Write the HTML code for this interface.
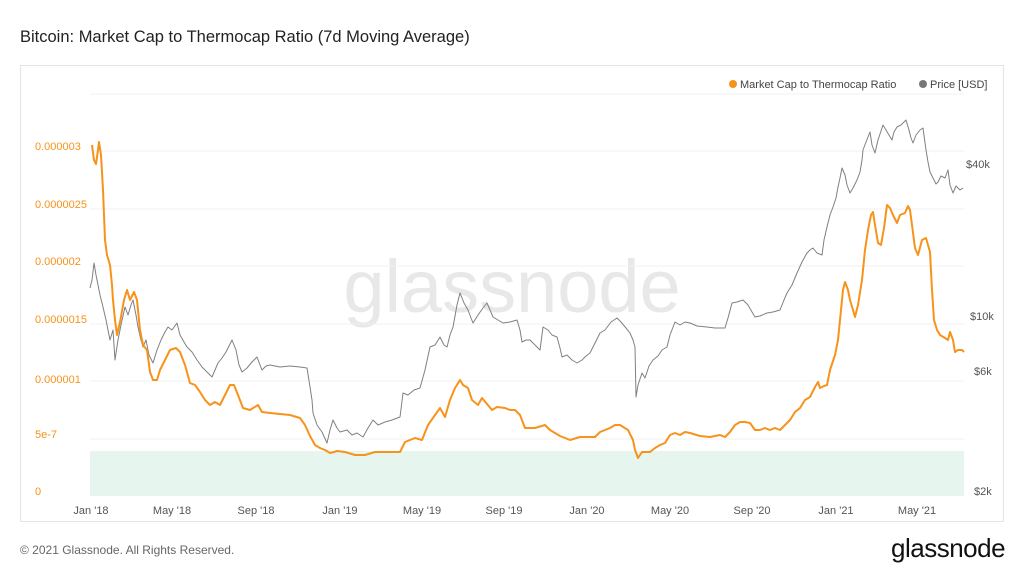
<!DOCTYPE html>
<html><head><meta charset="utf-8"><style>
body{margin:0;width:1024px;height:576px;background:#fff;font-family:"Liberation Sans",sans-serif;overflow:hidden;position:relative}
.t{position:absolute;white-space:nowrap}
</style></head><body>
<div class="t" style="left:20px;top:28px;font-size:16.5px;color:#222">Bitcoin: Market Cap to Thermocap Ratio (7d Moving Average)</div>
<div style="position:absolute;left:20px;top:65px;width:982px;height:455px;border:1px solid #e4e4e4"></div>
<svg width="1024" height="576" style="position:absolute;left:0;top:0" font-family="Liberation Sans, sans-serif">
<text x="512" y="312" text-anchor="middle" font-size="74" fill="#e8e8e8">glassnode</text>
<rect x="90" y="451" width="874" height="45" fill="#e6f6ee"/>
<g stroke="#f0f0f0" stroke-width="1">
<line x1="90" x2="964" y1="94" y2="94"/><line x1="90" x2="964" y1="151" y2="151"/><line x1="90" x2="964" y1="209" y2="209"/><line x1="90" x2="964" y1="266" y2="266"/><line x1="90" x2="964" y1="324" y2="324"/><line x1="90" x2="964" y1="381" y2="381"/><line x1="90" x2="964" y1="439" y2="439"/>
</g>
<polyline fill="none" stroke="#808080" stroke-width="1" stroke-linejoin="round" points="90,288 92,280 94,263 96,275 98,285 100,295 103,307 106,320 110,340 113,330 115,360 118,340 121,325 125,307 128,315 131,305 133,300 136,315 138,327 141,340 143,347 146,340 149,355 153,363 157,350 161,340 165,332 168,327 172,330 177,323 180,335 184,342 187,347 192,352 197,360 202,367 207,372 212,377 215,370 218,363 222,358 226,352 232,340 236,350 239,365 242,372 247,368 252,362 257,357 260,365 262,370 266,366 270,365 280,367 290,366 300,367 307,368 310,387 312,400 313,413 317,425 322,432 327,443 330,430 333,420 337,428 340,432 347,430 352,435 357,433 363,437 368,428 373,420 378,425 385,422 392,420 400,417 403,393 408,395 414,390 420,388 425,370 430,347 435,345 440,337 444,345 447,347 450,335 453,327 457,305 460,293 464,303 468,310 471,318 473,323 478,315 483,308 487,303 490,310 493,317 498,320 503,323 510,322 517,320 520,330 522,342 526,340 530,340 535,345 540,350 543,327 548,330 552,335 557,337 560,348 562,357 567,355 572,360 577,363 582,360 586,356 590,353 594,345 600,333 605,330 611,322 617,318 621,322 626,328 630,333 633,340 635,347 636,397 638,385 642,373 645,378 649,366 653,360 658,356 662,350 667,347 670,335 675,322 680,325 685,322 690,323 697,326 707,327 715,328 725,328 728,318 732,303 737,302 743,300 748,305 752,312 755,317 760,316 767,313 773,312 780,310 784,300 787,293 792,285 797,273 802,262 807,253 810,250 813,248 817,253 822,255 824,240 827,227 830,215 833,207 836,198 838,187 840,178 842,168 845,175 847,185 850,193 853,188 857,180 860,172 862,160 863,150 866,142 870,132 872,145 875,153 878,140 883,125 886,130 889,135 892,140 894,132 897,127 901,125 906,120 909,130 911,138 913,143 916,135 920,130 923,128 926,150 928,162 930,172 933,178 936,184 938,182 941,176 945,178 948,170 950,185 953,193 956,186 960,190 963,188"/>
<polyline fill="none" stroke="#f7931a" stroke-width="2" stroke-linejoin="round" points="92,145 94,160 96,164 98,150 99,142 101,155 103,190 105,240 107,255 110,265 112,285 113,300 115,320 117,335 120,322 124,300 127,290 130,300 134,292 137,300 140,330 143,345 147,350 150,372 153,380 157,380 160,370 165,360 170,350 176,348 180,352 185,365 190,383 195,385 200,392 205,400 210,405 215,402 220,405 225,395 230,385 234,385 238,395 243,408 250,410 258,405 262,412 270,413 290,415 300,418 305,425 310,436 315,445 320,448 325,450 330,453 334,452 337,451 345,452 355,455 365,455 375,452 390,452 400,452 405,442 415,438 422,440 428,425 435,415 440,408 445,417 450,400 455,388 460,380 463,385 468,388 472,400 478,405 482,398 487,404 492,410 497,407 505,408 510,410 515,410 520,415 525,428 535,428 545,425 550,430 560,436 570,440 580,437 595,437 600,432 610,428 615,425 620,425 628,430 633,440 635,450 638,458 642,452 650,452 655,448 660,445 665,443 670,435 675,433 680,435 685,432 690,433 700,436 710,437 720,435 725,437 730,432 735,425 740,422 745,422 750,423 755,430 760,430 765,428 770,430 775,428 780,430 785,425 790,420 795,412 800,408 805,400 810,397 815,387 818,382 820,388 824,386 827,385 830,370 835,355 838,340 841,310 843,290 845,282 848,290 850,300 853,310 855,317 858,305 862,280 865,250 868,230 871,215 873,212 875,225 878,243 881,245 884,228 887,205 890,208 893,215 897,223 900,215 905,213 908,206 910,210 912,225 915,248 918,255 922,240 926,238 930,252 932,290 934,320 937,330 940,335 945,338 948,340 950,332 953,340 955,352 958,350 962,350 964,352"/>
<g font-size="11" fill="#f7931a">
<text x="35" y="150">0.000003</text><text x="35" y="208">0.0000025</text><text x="35" y="265">0.000002</text><text x="35" y="323">0.0000015</text><text x="35" y="383">0.000001</text><text x="35" y="438">5e-7</text><text x="35" y="495">0</text>
</g>
<g font-size="11" fill="#555">
<text x="966" y="168">$40k</text><text x="970" y="320">$10k</text><text x="974" y="375">$6k</text><text x="974" y="495">$2k</text>
</g>
<g font-size="11" fill="#555" text-anchor="middle">
<text x="91" y="514">Jan '18</text><text x="172" y="514">May '18</text><text x="256" y="514">Sep '18</text><text x="340" y="514">Jan '19</text><text x="422" y="514">May '19</text><text x="504" y="514">Sep '19</text><text x="587" y="514">Jan '20</text><text x="670" y="514">May '20</text><text x="752" y="514">Sep '20</text><text x="836" y="514">Jan '21</text><text x="917" y="514">May '21</text>
</g>
<circle cx="733" cy="84" r="4" fill="#f7931a"/><text x="740" y="88" font-size="11" fill="#444">Market Cap to Thermocap Ratio</text>
<circle cx="923" cy="84" r="4" fill="#777"/><text x="930" y="88" font-size="11" fill="#444">Price [USD]</text>
</svg>
<div class="t" style="left:20px;top:543px;font-size:12px;color:#666">© 2021 Glassnode. All Rights Reserved.</div>
<div class="t" style="left:891px;top:533px;font-size:26px;color:#111;letter-spacing:-0.5px">glassnode</div>
</body></html>
